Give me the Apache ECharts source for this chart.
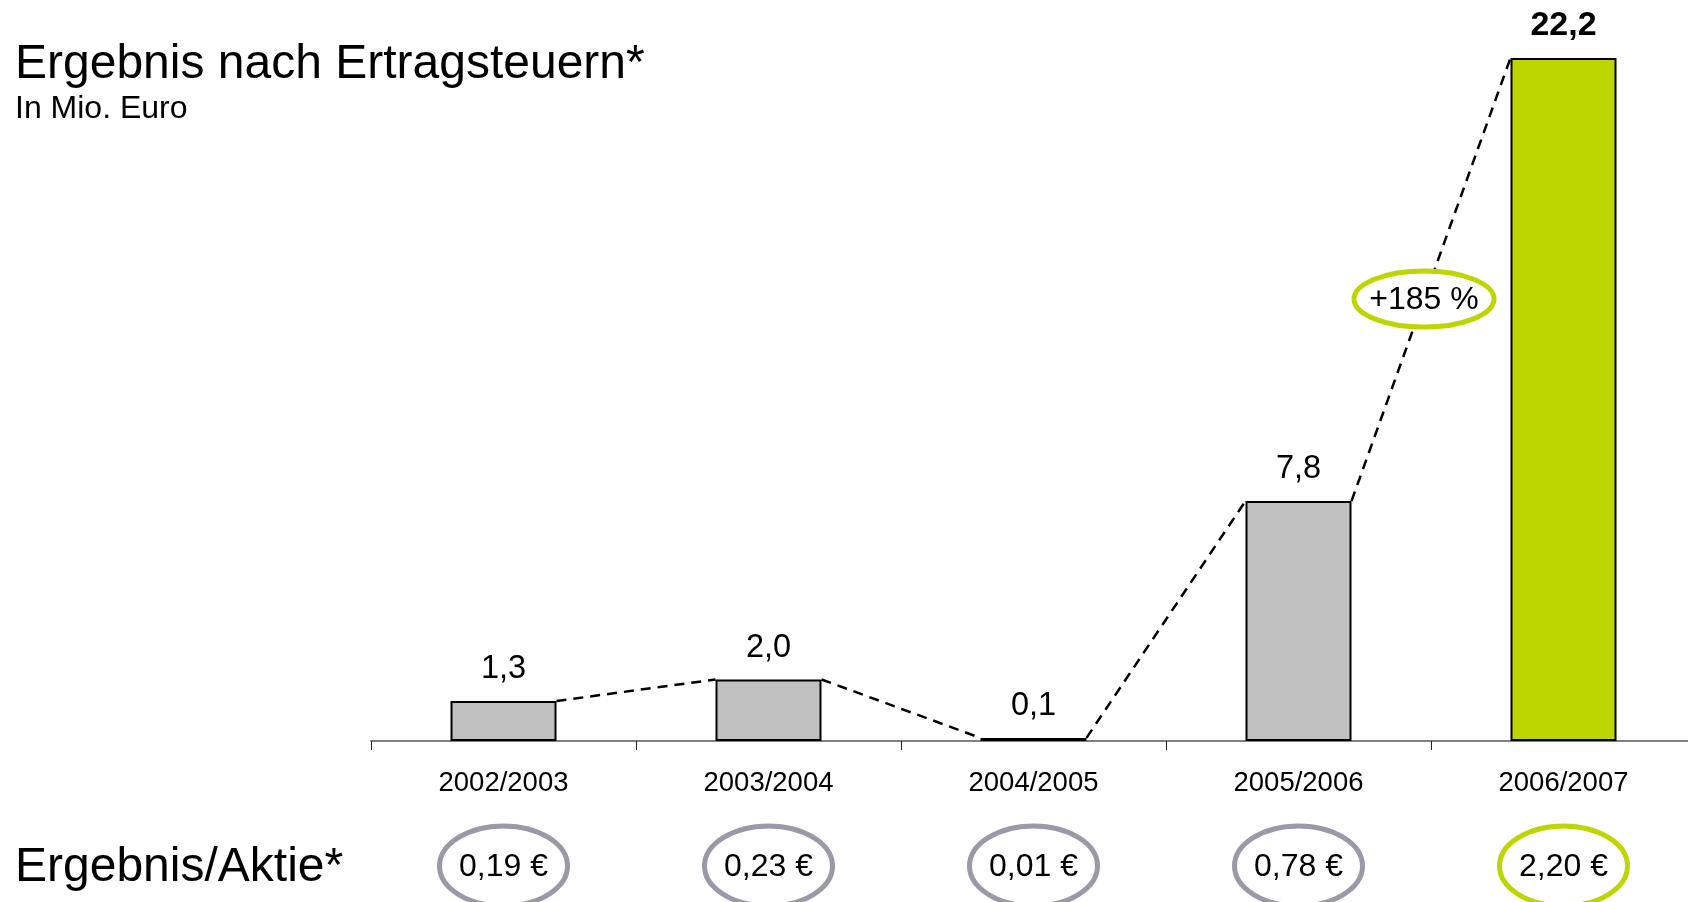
<!DOCTYPE html>
<html>
<head>
<meta charset="utf-8">
<script src="https://cdn.jsdelivr.net/npm/echarts@6/dist/echarts.min.js"></script>
<style>
html,body{margin:0;padding:0;background:#fff;}
#chart{width:1688px;height:902px;}
</style>
</head>
<body>
<div id="chart"></div>
<script>
// ---- data ----
const categories = ['2002/2003', '2003/2004', '2004/2005', '2005/2006', '2006/2007'];
const netIncome = [1.3, 2.0, 0.1, 7.8, 22.2];          // Mio. Euro
const earningsPerShare = [0.19, 0.23, 0.01, 0.78, 2.20]; // Euro
const growthLabel = '+185 %';
const titleText = 'Ergebnis nach Ertragsteuern*';
const subtitleText = 'In Mio. Euro';
const epsTitleText = 'Ergebnis/Aktie*';

// ---- styles ----
const FONT = "'Liberation Sans', Arial, Helvetica, sans-serif";
const GREY_BAR = '#C0C0C0';
const GREEN = '#BDD600';
const GREY_RING = '#9B99A8';
const BAR_RATIO = 0.4;

const fmt1 = v => v.toFixed(1).replace('.', ',');
const fmt2 = v => v.toFixed(2).replace('.', ',') + ' €';
const lastIdx = netIncome.length - 1;

const chart = echarts.init(document.getElementById('chart'), null, {renderer: 'canvas'});

const barData = netIncome.map((v, i) => ({
  value: v,
  itemStyle: {color: i === lastIdx ? GREEN : GREY_BAR},
  label: i === lastIdx ? {fontWeight: 'bold', fontSize: 34} : {fontWeight: 'normal'}
}));

const connectorData = netIncome.slice(0, -1).map((v, i) => [i, v, netIncome[i + 1]]);
const growthData = [[lastIdx - 1, netIncome[lastIdx - 1], netIncome[lastIdx]]];
const epsData = earningsPerShare.map((v, i) => [i, v]);

const option = {
  animation: false,
  backgroundColor: '#fff',
  grid: {left: 371, width: 1325, top: 58, bottom: 161, outerBoundsMode: 'none', containLabel: false},
  xAxis: {
    type: 'category',
    data: categories,
    axisLine: {lineStyle: {color: '#808080', width: 2}},
    axisTick: {show: true, length: 9, lineStyle: {color: '#222', width: 1}},
    axisLabel: {fontSize: 27.5, color: '#000', fontFamily: FONT, margin: 28}
  },
  yAxis: {type: 'value', min: 0, max: 22.2, show: false, splitLine: {show: false}},
  graphic: [
    {type: 'text', left: 15, top: 41, style: {text: titleText, fontSize: 48, fontFamily: FONT, fill: '#000'}},
    {type: 'text', left: 15, top: 93, style: {text: subtitleText, fontSize: 32, fontFamily: FONT, fill: '#000'}},
    {type: 'text', left: 15, top: 844, style: {text: epsTitleText, fontSize: 48, fontFamily: FONT, fill: '#000'}}
  ],
  series: [
    {
      type: 'bar',
      data: barData,
      barWidth: (BAR_RATIO * 100) + '%',
      itemStyle: {borderColor: '#000', borderWidth: 2},
      label: {
        show: true, position: 'top', distance: 15,
        fontSize: 32.5, color: '#000', fontFamily: FONT,
        formatter: p => fmt1(p.value)
      },
      z: 2
    },
    {
      type: 'custom',
      data: connectorData,
      z: 3,
      renderItem: function (params, api) {
        const i = api.value(0);
        const p1 = api.coord([i, api.value(1)]);
        const p2 = api.coord([i + 1, api.value(2)]);
        const half = api.size([1, 0])[0] * BAR_RATIO / 2;
        return {
          type: 'line',
          shape: {x1: p1[0] + half, y1: p1[1], x2: p2[0] - half, y2: p2[1]},
          style: {stroke: '#000', lineWidth: 2.5, lineDash: [10, 7], fill: null}
        };
      }
    },
    {
      type: 'custom',
      data: growthData,
      z: 5,
      renderItem: function (params, api) {
        const i = api.value(0);
        const p1 = api.coord([i, api.value(1)]);
        const p2 = api.coord([i + 1, api.value(2)]);
        const half = api.size([1, 0])[0] * BAR_RATIO / 2;
        const t = 0.456;
        const x1 = p1[0] + half, x2 = p2[0] - half;
        const cx = x1 + (x2 - x1) * t;
        const cy = p1[1] + (p2[1] - p1[1]) * t;
        return {
          type: 'group',
          children: [
            {type: 'ellipse', shape: {cx: cx, cy: cy, rx: 70, ry: 28},
             style: {fill: '#fff', stroke: GREEN, lineWidth: 5}},
            {type: 'text', style: {text: growthLabel, x: cx, y: cy + 1, align: 'center', verticalAlign: 'middle',
             fontSize: 32, fontFamily: FONT, fill: '#000'}}
          ]
        };
      }
    },
    {
      type: 'custom',
      data: epsData,
      z: 5,
      renderItem: function (params, api) {
        const i = api.value(0);
        const base = api.coord([i, 0]);
        const cx = base[0];
        const cy = base[1] + 125;
        const isLast = i === lastIdx;
        return {
          type: 'group',
          children: [
            {type: 'ellipse', shape: {cx: cx, cy: cy, rx: 64, ry: 40},
             style: {fill: '#fff', stroke: isLast ? GREEN : GREY_RING, lineWidth: 5}},
            {type: 'text', style: {text: fmt2(api.value(1)), x: cx, y: cy + 1, align: 'center', verticalAlign: 'middle',
             fontSize: 32, fontFamily: FONT, fill: '#000'}}
          ]
        };
      }
    }
  ]
};
chart.setOption(option);
</script>
</body>
</html>
